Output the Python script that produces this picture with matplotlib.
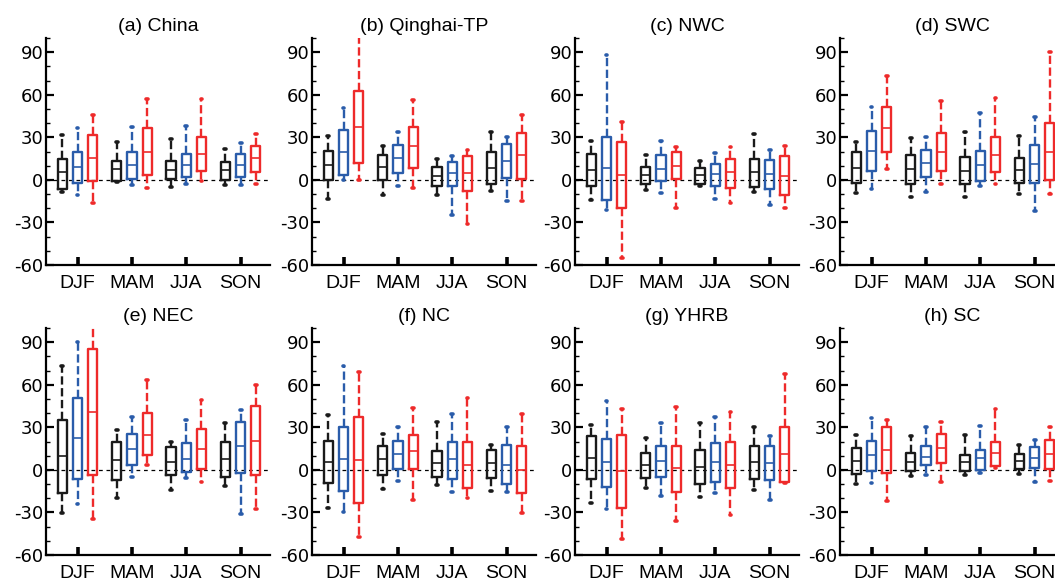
import numpy as np
import matplotlib
matplotlib.use("Agg")
import matplotlib.pyplot as plt
from matplotlib.ticker import MultipleLocator, FixedLocator

plt.rcParams["axes.unicode_minus"] = False

SEASONS = ["DJF", "MAM", "JJA", "SON"]
TITLES = ["(a) China", "(b) Qinghai-TP", "(c) NWC", "(d) SWC",
          "(e) NEC", "(f) NC", "(g) YHRB", "(h) SC"]
COLORS = ["#1a1a1a", "#2a5caa", "#ee2a2a"]

# rows: [whisker low, q1, median, q3, whisker high]; per season: black, blue, red
china = [[-8.5, -6.6, 5.2, 14.4, 31.6], [-10.6, -2, 9.4, 20, 36.6], [-16, -0.7, 15.4, 31.4, 46],
         [-1.5, -1, 7.6, 13.5, 27], [-3.8, 0.5, 10.6, 20, 37.5], [-5.9, 3.3, 20, 36.6, 56.7],
         [-5, 0.5, 7, 13, 28.8], [-3, 2, 10.6, 18.2, 38.3], [-0.7, 6, 18, 30, 56.7],
         [-3.8, 0, 7, 12.8, 22], [-3.8, 2, 10.6, 18.2, 25.7], [-2.6, 5.2, 15.4, 24, 32.4]]
qinghai = [[-13.7, 0, 10.6, 20.5, 31], [0, 3.5, 20, 35.4, 51], [0, 11.6, 37.5, 62.6, 103],
           [-10.9, 0, 9.4, 17.7, 24], [-4.3, 4.7, 15.4, 24.8, 33.5], [-5.9, 8.7, 23.6, 37.5, 56],
           [-10.9, -4.3, 2.8, 9.4, 14.6], [-24.8, -4.3, 4.5, 12.8, 17], [-31.4, -7.8, 4.5, 16.5, 21],
           [-7.8, -2.6, 8.7, 19.4, 34], [-14.9, 1.2, 13, 25.3, 30.5], [-14.9, 0.5, 17.5, 32.8, 46]]
nwc = [[-14.2, -4.3, 7, 18.2, 27.6], [-21.5, -14.2, 8.7, 30.5, 88.3], [-55, -19.6, 3.5, 26.5, 40.6],
       [-7.3, -3, 3.3, 9.2, 17.7], [-9.4, -0.7, 7.6, 17.7, 27.6], [-19.6, 0.5, 9.9, 19.4, 23],
       [-4.5, -3, 3.3, 8.7, 13], [-13.7, -4.3, 4, 11, 18.7], [-16, -5.4, 5.2, 14.6, 23],
       [-8.5, -5, 5.2, 14.6, 32.4], [-17.7, -6.6, 4, 14.2, 21.3], [-19.6, -10.9, 2.8, 16.5, 24]]
swc = [[-9.4, -1.9, 8.7, 19.4, 26.5], [-6.6, 6.4, 20.5, 34.2, 51.7], [8, 20, 36.4, 51.7, 73],
       [-12, -2.6, 7.6, 17.7, 29.3], [-8.3, 1.7, 11.6, 21.3, 30.5], [-3, 6.4, 20, 32.8, 55.3],
       [-11.8, -2.6, 6.4, 15.8, 33.5], [-4.3, -0.7, 10.4, 20.5, 47], [-2.6, 5.2, 17.7, 30, 57.9],
       [-10.2, -1.9, 6.8, 15.4, 31.2], [-22, -1.9, 11.1, 24.6, 44.6], [-9.7, 0, 20, 40, 90]]
nec = [[-30.2, -16.5, 9.9, 35.4, 73], [-23.9, -6.1, 22.4, 50.5, 90], [-34.5, -3.8, 40.6, 85.5, 103],
       [-19.6, -7.1, 6.8, 19.8, 28.1], [-5, 3.3, 14.6, 25.3, 37], [3.3, 10.4, 24.8, 40, 63.5],
       [-14.2, -3.8, 5.9, 15.8, 19.8], [-5.9, -1.4, 8, 18.7, 35.2], [-8.5, 0.5, 14.6, 28.8, 49.4],
       [-11.3, -4.7, 7.6, 19.8, 32.8], [-30.9, -1.9, 16.5, 33.5, 42.3], [-27.9, -3.8, 20.5, 44.9, 60]]
nc = [[-27.2, -9.4, 5.9, 20.5, 39], [-29.8, -14.9, 8, 30, 73], [-47.2, -23.1, 7, 37, 69],
      [-13.7, -3.5, 7.6, 16.5, 25.3], [-7.8, 0.5, 11.1, 20.5, 30], [-21.3, 0.9, 13, 24.8, 43.7],
      [-10.6, -4.7, 4.7, 13.5, 34], [-15.6, -6.6, 7.6, 19.4, 39.4], [-20.1, -13, 3.5, 19.8, 50.8],
      [-14.9, -5.9, 4.5, 13.9, 17.5], [-15.6, -10.2, 3.5, 17.5, 30], [-30.2, -16, 0, 16.5, 39.4]]
yhrb = [[-23.1, -6.6, 8.7, 23.6, 31.6], [-27.4, -11.8, 5.2, 21.7, 48.2], [-48.4, -27.2, -0.7, 24.8, 43],
        [-13, -5.9, 3.3, 11.6, 22.2], [-18.4, -4.7, 6.4, 17, 32.8], [-36.1, -15.6, 1.2, 17, 44.2],
        [-19.1, -10.2, 1.7, 13.9, 32.8], [-16.5, -8.3, 5.2, 18.7, 37.6], [-32.1, -13, 3.5, 20, 40.6],
        [-14.4, -6.6, 5.2, 16.5, 30.5], [-21.5, -7.3, 4.7, 17, 23.6], [-9, -8.5, 11.1, 30, 67.8]]
sc = [[-9.7, -2.6, 6.4, 15.1, 24.6], [-9, -0.7, 10.4, 20.5, 36.4], [-22, -2.4, 13.9, 30, 35.4],
      [-4.3, -0.7, 5.7, 11.6, 23.6], [-3.5, 3.3, 9.4, 17, 30], [-8.5, 4.7, 15.1, 25.3, 34],
      [-3.5, -0.7, 5.2, 10.4, 24.6], [-1.9, 0, 8.3, 13.9, 30.7], [1.2, 2.4, 11.6, 20, 43],
      [-2.6, 0.5, 6.4, 11.1, 17.7], [-8.5, 1.2, 8.7, 15.8, 21.3], [-7.8, 0.9, 11.1, 21.3, 30.5]]
PANELS = [china, qinghai, nwc, swc, nec, nc, yhrb, sc]

W, H = 1055, 583
fig = plt.figure(figsize=(W / 100, H / 100), dpi=100)
lefts = [46, 312, 575, 840]
bottoms = [265, 555]
aw, ah = 224, 227
offsets = [-0.28, 0.0, 0.28]

for k, (title, data) in enumerate(zip(TITLES, PANELS)):
    r, c = divmod(k, 4)
    ax = fig.add_axes([lefts[c] / W, 1 - bottoms[r] / H, aw / W, ah / H])
    ax.axhline(0, color="k", lw=0.9, ls=(0, (3, 3)), zorder=1)
    for m, col in enumerate(COLORS):
        stats = []
        for s in range(4):
            lo, q1, med, q3, hi = data[s * 3 + m]
            stats.append(dict(whislo=lo, q1=q1, med=med, q3=q3, whishi=hi, fliers=[]))
        ax.bxp(stats, positions=np.arange(1, 5) + offsets[m], widths=0.17,
               showfliers=False, manage_ticks=False, capwidths=0.035,
               boxprops=dict(color=col, lw=1.7),
               medianprops=dict(color=col, lw=1.2),
               whiskerprops=dict(color=col, lw=1.7, ls=(0, (3.5, 1.5))),
               capprops=dict(color=col, lw=2.6, solid_capstyle="round"))
    ax.set_xlim(0.42, 4.54)
    ax.set_ylim(-60, 100)
    for sp in ("top", "right"):
        ax.spines[sp].set_visible(False)
    for sp in ("left", "bottom"):
        ax.spines[sp].set_linewidth(1.6)
    ax.xaxis.set_major_locator(FixedLocator([1, 2, 3, 4]))
    ax.set_xticklabels(SEASONS, family="Liberation Sans", fontsize=14)
    ax.yaxis.set_major_locator(FixedLocator([-60, -30, 0, 30, 60, 90]))
    ax.yaxis.set_minor_locator(MultipleLocator(10))
    ylabels = ["-60", "-30", "0", "30", "60", "9o" if k == 7 else "90"]
    ax.set_yticklabels(ylabels, family="DejaVu Sans", fontsize=13)
    ax.tick_params(axis="x", direction="in", length=6, width=2.6, pad=7)
    ax.tick_params(axis="y", which="major", direction="in", length=6, width=1.6, pad=2)
    ax.tick_params(axis="y", which="minor", direction="in", length=3, width=1.0)
    ax.set_title(title, family="Liberation Sans", fontsize=14, pad=5)

fig.savefig("out.png", dpi=100)
